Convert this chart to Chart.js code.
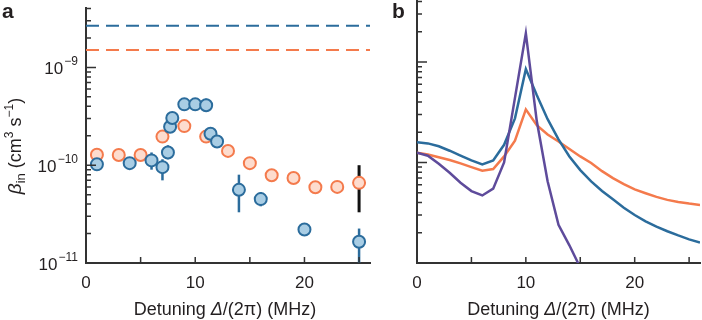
<!DOCTYPE html>
<html>
<head>
<meta charset="utf-8">
<script src="https://cdn.jsdelivr.net/npm/chart.js@4/dist/chart.umd.min.js"></script>
<style>
  body { margin: 0; background: #fff; }
  #wrap { position: relative; width: 702px; height: 320px; overflow: hidden; }
  canvas { position: absolute; top: 0; }
</style>
</head>
<body>
<div id="wrap">
  <canvas id="chart-a" width="380" height="320" style="left:0"></canvas>
  <canvas id="chart-b" width="322" height="320" style="left:380px"></canvas>
</div>
<script>
// 實驗數據 (panel a)
const blueX = [1, 4, 6, 7, 7.5, 7.7, 7.9, 9, 10, 11, 11.4, 12, 14, 16, 20, 25];
const blueY = [1.02e-10, 1.05e-10, 1.12e-10, 0.955e-10, 1.35e-10, 2.47e-10, 3.04e-10, 4.19e-10, 4.19e-10, 4.1e-10, 2.1e-10, 1.75e-10, 5.6e-11, 4.5e-11, 2.2e-11, 1.65e-11];
const blueLo = [1.0e-10, 1.05e-10, 0.9e-10, 0.7e-10, 1.15e-10, 2.3e-10, 2.8e-10, 3.7e-10, 3.7e-10, 3.55e-10, 2.1e-10, 1.75e-10, 3.3e-11, 3.8e-11, 2.2e-11, 0.9e-11];
const blueHi = [1.05e-10, 1.05e-10, 1.35e-10, 1.15e-10, 1.6e-10, 2.6e-10, 3.3e-10, 4.7e-10, 4.7e-10, 4.8e-10, 2.1e-10, 1.75e-10, 8.0e-11, 5.3e-11, 2.2e-11, 2.25e-11];

const orangeX = [1, 3, 5, 7, 9, 11, 13, 15, 17, 19, 21, 23, 25];
const orangeY = [1.28e-10, 1.27e-10, 1.27e-10, 1.96e-10, 2.51e-10, 1.96e-10, 1.4e-10, 1.05e-10, 7.9e-11, 7.4e-11, 5.95e-11, 6.0e-11, 6.6e-11];
const orangeLo = [1.28e-10, 1.27e-10, 1.27e-10, 1.96e-10, 2.51e-10, 1.96e-10, 1.4e-10, 1.05e-10, 7.9e-11, 7.4e-11, 5.95e-11, 6.0e-11, 3.3e-11];
const orangeHi = [1.28e-10, 1.27e-10, 1.27e-10, 1.96e-10, 2.51e-10, 1.96e-10, 1.4e-10, 1.05e-10, 7.9e-11, 7.4e-11, 5.95e-11, 6.0e-11, 1.0e-10];

// 虛線 (上限)
const dashBlue = 2.66e-9;
const dashOrange = 1.51e-9;

// 理論曲線 (panel b)
const detuning = [0, 1, 2, 3, 4, 5, 6, 7, 8, 9, 10, 11, 12, 13, 14, 15, 16, 17, 18, 19, 20, 21, 22, 23, 24, 25, 26];
const modelBlue = [1.59e-10, 1.55e-10, 1.45e-10, 1.31e-10, 1.17e-10, 1.05e-10, 0.955e-10, 1.05e-10, 1.5e-10, 2.75e-10, 8.5e-10, 4.7e-10, 2.7e-10, 1.7e-10, 1.15e-10, 8.4e-11, 6.5e-11, 5.2e-11, 4.3e-11, 3.55e-11, 3.0e-11, 2.6e-11, 2.3e-11, 2.07e-11, 1.88e-11, 1.72e-11, 1.6e-11];
const modelOrange = [1.25e-10, 1.2e-10, 1.13e-10, 1.06e-10, 0.98e-10, 0.9e-10, 0.83e-10, 0.86e-10, 1.15e-10, 1.65e-10, 3.38e-10, 2.35e-10, 1.9e-10, 1.62e-10, 1.36e-10, 1.15e-10, 9.9e-11, 8.2e-11, 7.0e-11, 6.1e-11, 5.4e-11, 4.95e-11, 4.55e-11, 4.25e-11, 4.05e-11, 3.9e-11, 3.78e-11];
const modelPurple = [1.25e-10, 1.17e-10, 0.97e-10, 0.79e-10, 0.63e-10, 0.52e-10, 4.7e-11, 5.5e-11, 1.0e-10, 4.4e-10, 1.93e-9, 2.6e-10, 6.5e-11, 2.4e-11, 1.5e-11, 0.9e-11];

// 軸
const xTicks = [0, 5, 10, 15, 20, 25];
const yLabelExp = [-9, -10, -11];

const FONT = "'Liberation Sans', Arial, sans-serif";
const TEXT = "#231f20";
const AXIS = "#333";
const BLUE = "#2b6c9c";
const BLUE_FILL = "#a9cde4";
const ORANGE = "#f47a4c";
const ORANGE_FILL = "#fddcce";
const PURPLE = "#5e4b9b";

const fontOf = (r) => `${r.italic ? "italic " : ""}${r.bold ? "bold " : ""}${r.size || 18}px ${FONT}`;

// 畫混合字型文字 (上標/下標)
const drawRuns = (ctx, runs, x, y, align) => {
  let w = 0;
  runs.forEach((r) => {
    ctx.font = fontOf(r);
    r.w = ctx.measureText(r.t).width;
    w += r.w;
  });
  let cx = align === "center" ? x - w / 2 : align === "right" ? x - w : x;
  runs.forEach((r) => {
    ctx.font = fontOf(r);
    ctx.fillText(r.t, cx, y + (r.dy || 0));
    cx += r.w;
  });
};

const toPoints = (xs, ys) => xs.map((x, i) => ({ x, y: ys[i] }));

// 向內的刻度
const inwardTicks = {
  id: "inwardTicks",
  afterDraw(chart) {
    const { ctx, chartArea: a, scales } = chart;
    ctx.save();
    ctx.strokeStyle = AXIS;
    ctx.lineWidth = 1.5;
    ctx.beginPath();
    xTicks.forEach((v) => {
      const px = scales.x.getPixelForValue(v);
      ctx.moveTo(px, a.bottom);
      ctx.lineTo(px, a.bottom - 6);
    });
    scales.y.ticks.forEach((t) => {
      const v = t.value;
      const e = Math.floor(Math.log10(v) + 1e-9);
      const m = v / Math.pow(10, e);
      if (Math.abs(m - Math.round(m)) > 1e-6) return;
      const py = scales.y.getPixelForValue(v);
      const len = Math.abs(m - 1) < 1e-6 ? 10 : 5;
      ctx.moveTo(a.left, py);
      ctx.lineTo(a.left + len, py);
    });
    ctx.stroke();
    ctx.restore();
  },
};

// 誤差線
const errorBars = {
  id: "errorBars",
  beforeDatasetsDraw(chart) {
    const { ctx, chartArea: a, scales } = chart;
    const sets = [
      { xs: blueX, lo: blueLo, hi: blueHi, color: BLUE, width: 2.5 },
      { xs: orangeX, lo: orangeLo, hi: orangeHi, color: "#111", width: 3 },
    ];
    ctx.save();
    ctx.beginPath();
    ctx.rect(a.left, a.top, a.right - a.left, a.bottom - a.top);
    ctx.clip();
    sets.forEach((s) => {
      ctx.strokeStyle = s.color;
      ctx.lineWidth = s.width;
      s.xs.forEach((x, i) => {
        if (s.lo[i] === s.hi[i]) return;
        const px = scales.x.getPixelForValue(x);
        ctx.beginPath();
        ctx.moveTo(px, scales.y.getPixelForValue(s.lo[i]));
        ctx.lineTo(px, scales.y.getPixelForValue(s.hi[i]));
        ctx.stroke();
      });
    });
    ctx.restore();
  },
};

// 軸標題與面板字母
const makeLabels = (letter, letterX, withY) => ({
  id: "labels" + letter,
  afterDraw(chart) {
    const { ctx, chartArea: a, scales } = chart;
    ctx.save();
    ctx.fillStyle = TEXT;
    ctx.textBaseline = "alphabetic";
    ctx.font = `bold 21px ${FONT}`;
    ctx.fillText(letter, letterX, 18);
    drawRuns(
      ctx,
      [{ t: "Detuning " }, { t: "Δ", italic: true }, { t: "/(2π) (MHz)" }],
      (a.left + a.right) / 2 - (withY ? 3 : 0),
      315,
      "center"
    );
    if (withY) {
      yLabelExp.forEach((e) => {
        const py = scales.y.getPixelForValue(Math.pow(10, e));
        drawRuns(ctx, [{ t: "10", size: 17 }, { t: " ", size: 4 }, { t: "−" + String(-e), size: 12, dy: -9 }], 78, py + 7, "right");
      });
      ctx.translate(21, 146);
      ctx.rotate(-Math.PI / 2);
      drawRuns(
        ctx,
        [
          { t: "β", italic: true, size: 19 },
          { t: "in", size: 13, dy: 4 },
          { t: " (cm" },
          { t: "3", size: 12, dy: -8 },
          { t: " s" },
          { t: "−1", size: 12, dy: -8 },
          { t: ")" },
        ],
        0,
        0,
        "center"
      );
    }
    ctx.restore();
  },
});

const axes = (yWidth) => ({
  x: {
    type: "linear",
    min: 0,
    max: 26,
    afterFit: (s) => { s.height = 57; },
    border: { display: true, color: AXIS, width: 2 },
    grid: { display: false },
    ticks: {
      stepSize: 5,
      autoSkip: false,
      maxRotation: 0,
      padding: 2,
      color: TEXT,
      font: { size: 17, family: FONT },
      callback: (v) => (v % 10 === 0 ? v : ""),
    },
  },
  y: {
    type: "logarithmic",
    min: 1e-11,
    max: 4.05e-9,
    afterFit: (s) => { s.width = yWidth; },
    border: { display: true, color: AXIS, width: 2 },
    grid: { display: false },
    ticks: { display: false, autoSkip: false },
  },
});

const baseOptions = (yWidth, right) => ({
  responsive: false,
  animation: false,
  layout: { padding: { top: 1, right, bottom: 0, left: 0 } },
  plugins: { legend: { display: false }, tooltip: { enabled: false } },
  scales: axes(yWidth),
});

// panel a
new Chart(document.getElementById("chart-a"), {
  type: "scatter",
  data: {
    datasets: [
      {
        label: "blue",
        data: toPoints(blueX, blueY),
        backgroundColor: BLUE_FILL,
        borderColor: BLUE,
        borderWidth: 2,
        pointRadius: 6,
      },
      {
        label: "orange",
        data: toPoints(orangeX, orangeY),
        backgroundColor: ORANGE_FILL,
        borderColor: ORANGE,
        borderWidth: 2,
        pointRadius: 6,
      },
      {
        label: "blue limit",
        data: [{ x: 0, y: dashBlue }, { x: 26, y: dashBlue }],
        showLine: true,
        borderColor: BLUE,
        borderWidth: 2,
        borderDash: [13, 7],
        pointRadius: 0,
      },
      {
        label: "orange limit",
        data: [{ x: 0, y: dashOrange }, { x: 26, y: dashOrange }],
        showLine: true,
        borderColor: ORANGE,
        borderWidth: 2,
        borderDash: [13, 7],
        pointRadius: 0,
      },
    ],
  },
  options: baseOptions(86, 10),
  plugins: [errorBars, inwardTicks, makeLabels("a", 2, true)],
});

// panel b
const line = (ys, color) => ({
  data: toPoints(detuning.slice(0, ys.length), ys),
  showLine: true,
  borderColor: color,
  borderWidth: 2.5,
  pointRadius: 0,
  tension: 0,
});

new Chart(document.getElementById("chart-b"), {
  type: "scatter",
  data: {
    datasets: [line(modelPurple, PURPLE), line(modelBlue, BLUE), line(modelOrange, ORANGE)],
  },
  options: baseOptions(37, 0),
  plugins: [inwardTicks, makeLabels("b", 12, false)],
});
</script>
</body>
</html>
